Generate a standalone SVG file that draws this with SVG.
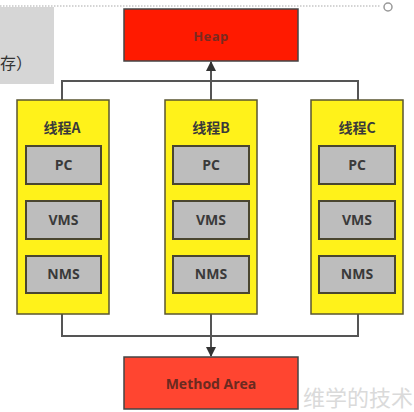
<svg xmlns="http://www.w3.org/2000/svg" width="414" height="412" viewBox="0 0 414 412">
<style>
.thread{fill:#fff21a;stroke:#5a5630;stroke-width:1.5}
.mem{fill:#bdbdbd;stroke:#4a4630;stroke-width:2}
.t{font-family:"Open Sans","Noto Sans CJK SC",sans-serif;font-weight:bold;text-anchor:middle;fill:#3a3a3a;font-size:14px}
.cn{font-family:"Noto Sans CJK SC",sans-serif;font-weight:bold;text-anchor:middle;fill:#3a3a3a;font-size:14px}
.ln{fill:none;stroke:#555;stroke-width:2}
</style>
<defs>
<marker id="ah" markerWidth="10" markerHeight="12" refX="9" refY="5" orient="auto" markerUnits="userSpaceOnUse" viewBox="0 0 10 10">
<path d="M0,0 L10,5 L0,10 Z" fill="#333"/>
</marker>
</defs>
<rect width="414" height="412" fill="#fff"/>
<g id="title">
<rect x="0" y="7" width="54" height="77" fill="#d6d6d6"/>
<text x="0" y="69" font-family="Noto Sans CJK SC,sans-serif" font-size="16" fill="#333">存）</text>
</g>
<line x1="0" y1="6" x2="380" y2="6" stroke="#aaa" stroke-width="1.2" stroke-dasharray="1.5,1.5"/>
<circle cx="388" cy="7" r="4" fill="#fff" stroke="#999" stroke-width="1.5"/>
<g id="connectors">
<path class="ln" d="M62,100 V81 H358 V100"/>
<path class="ln" d="M211,100 V62" marker-end="url(#ah)"/>
<path class="ln" d="M62,314 V336 H358 V314"/>
<path class="ln" d="M211,314 V356" marker-end="url(#ah)"/>
</g>
<g id="heap">
<rect x="124" y="9" width="174" height="52" fill="#ff1a00" stroke="#444" stroke-width="1.5"/>
<text x="211" y="41" class="t" style="fill:#7a2a20;font-size:13px;letter-spacing:0.5px">Heap</text>
</g>
<g id="threadA">
<rect class="thread" x="17" y="100" width="92" height="214"/>
<text class="cn" x="62" y="133">线程A</text>
<rect class="mem" x="26" y="146" width="75" height="38"/><text class="t" x="63.5" y="170">PC</text>
<rect class="mem" x="26" y="201" width="75" height="38"/><text class="t" x="63.5" y="225">VMS</text>
<rect class="mem" x="26" y="256" width="75" height="37"/><text class="t" x="63.5" y="279">NMS</text>
</g>
<g id="threadB">
<rect class="thread" x="165" y="100" width="92" height="214"/>
<text class="cn" x="211" y="133">线程B</text>
<rect class="mem" x="173" y="146" width="76" height="38"/><text class="t" x="211" y="170">PC</text>
<rect class="mem" x="173" y="201" width="76" height="38"/><text class="t" x="211" y="225">VMS</text>
<rect class="mem" x="173" y="256" width="76" height="37"/><text class="t" x="211" y="279">NMS</text>
</g>
<g id="threadC">
<rect class="thread" x="311" y="100" width="92" height="214"/>
<text class="cn" x="357" y="133">线程C</text>
<rect class="mem" x="319" y="146" width="76" height="38"/><text class="t" x="357" y="170">PC</text>
<rect class="mem" x="319" y="201" width="76" height="38"/><text class="t" x="357" y="225">VMS</text>
<rect class="mem" x="319" y="256" width="76" height="37"/><text class="t" x="357" y="279">NMS</text>
</g>
<g id="methodArea">
<rect x="124" y="357" width="174" height="52" fill="#ff4530" stroke="#444" stroke-width="1.5"/>
<text x="211" y="389" class="t" style="fill:#6a2a20">Method Area</text>
</g>
<text x="303" y="406" font-family="Noto Sans CJK SC,serif" font-size="22" fill="#dadada">维学的技术</text>
</svg>
